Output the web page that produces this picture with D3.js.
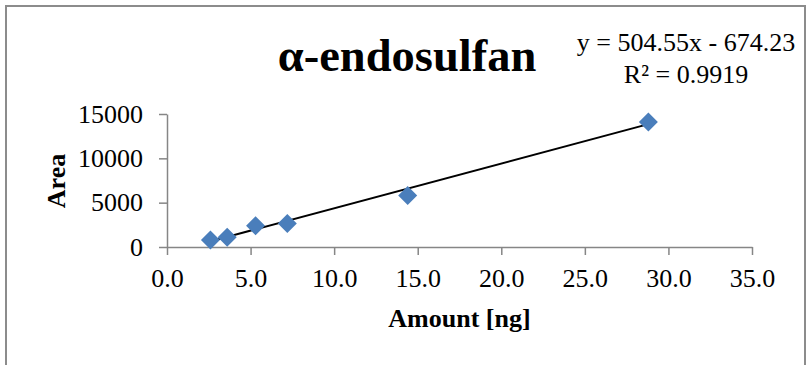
<!DOCTYPE html>
<html>
<head>
	<title>alpha-endosulfan calibration</title>
	<script type="text/javascript" src="https://cdnjs.cloudflare.com/ajax/libs/d3/7.8.5/d3.min.js"></script>
	<style type="text/css">
		body { margin: 0; background: #fff; }
		svg { display: block; font-family: "Liberation Serif", "Times New Roman", serif; }
	</style>
</head>
<body>
	<svg width=806 height=365 class="chart"></svg>
	<script type="text/javascript">

		// data
		amounts = [2.6, 3.6, 5.3, 7.2, 14.4, 28.8]
		areas = [790, 1100, 2400, 2650, 5800, 14100]
		x_ticks = [0, 5, 10, 15, 20, 25, 30, 35]
		y_ticks = [0, 5000, 10000, 15000]
		slope = 504.55
		intercept = -674.23
		r2 = 0.9919

		margin = {'top':114, 'right':54, 'bottom':118, 'left':167}
		svg = d3.select('.chart')
		width = +svg.attr('width')
		height = +svg.attr('height')
		axis_color = '#868686'

		x = d3.scaleLinear().domain([0, 35]).range([margin.left, width - margin.right])
		y = d3.scaleLinear().domain([0, 15000]).range([height - margin.bottom, margin.top])

		// outer frame (bottom edge is outside the picture)
		svg.append('path')
			.attr('d', 'M6,' + (height + 2) + 'V6H' + (width - 1) + 'V' + (height + 2))
			.attr('fill', 'none')
			.attr('stroke', '#8c8c8c')
			.attr('stroke-width', 2)

		// axes
		x_axis = svg.append('g')
			.attr('transform', 'translate(0,' + y(0) + ')')
			.call(d3.axisBottom(x).tickValues(x_ticks).tickSize(8).tickSizeOuter(0).tickPadding(14)
				.tickFormat(d3.format('.1f')))
		y_axis = svg.append('g')
			.attr('transform', 'translate(' + x(0) + ',0)')
			.call(d3.axisLeft(y).tickValues(y_ticks).tickSize(8).tickSizeOuter(0).tickPadding(16)
				.tickFormat(d3.format('d')))

		svg.selectAll('.domain, .tick line')
			.attr('stroke', axis_color)
			.attr('stroke-width', 1.5)
		svg.selectAll('.tick text')
			.attr('font-family', '"Liberation Serif", serif')
			.attr('font-size', 26)
			.attr('fill', '#000')

		// trendline over the data range
		x_ext = d3.extent(amounts)
		svg.append('line')
			.attr('x1', x(x_ext[0])).attr('y1', y(slope * x_ext[0] + intercept))
			.attr('x2', x(x_ext[1])).attr('y2', y(slope * x_ext[1] + intercept))
			.attr('stroke', '#000')
			.attr('stroke-width', 2)

		// diamond markers
		r = 9.5
		svg.append('g')
			.selectAll('path')
			.data(amounts)
			.enter()
			.append('path')
			.attr('d', function(d, i) {
				px = x(d); py = y(areas[i])
				return 'M' + px + ',' + (py - r) + 'L' + (px + r) + ',' + py + 'L' + px + ',' + (py + r) + 'L' + (px - r) + ',' + py + 'Z'
			})
			.attr('fill', '#4a7ebb')

		// title
		svg.append('text')
			.attr('x', 407)
			.attr('y', 71)
			.attr('text-anchor', 'middle')
			.attr('font-weight', 'bold')
			.attr('font-size', 46.5)
			.text('α-endosulfan')

		// trendline equation
		svg.append('text')
			.attr('x', 686).attr('y', 51)
			.attr('text-anchor', 'middle')
			.attr('font-size', 26)
			.text('y = ' + slope + 'x - ' + Math.abs(intercept))
		svg.append('text')
			.attr('x', 686).attr('y', 83)
			.attr('text-anchor', 'middle')
			.attr('font-size', 26)
			.text('R² = ' + r2)

		// axis titles
		svg.append('text')
			.attr('x', (x(0) + x(35)) / 2)
			.attr('y', 327)
			.attr('text-anchor', 'middle')
			.attr('font-weight', 'bold')
			.attr('font-size', 26)
			.text('Amount [ng]')
		svg.append('text')
			.attr('transform', 'translate(65,181) rotate(-90)')
			.attr('text-anchor', 'middle')
			.attr('font-weight', 'bold')
			.attr('font-size', 26)
			.text('Area')

	</script>
</body>
</html>
